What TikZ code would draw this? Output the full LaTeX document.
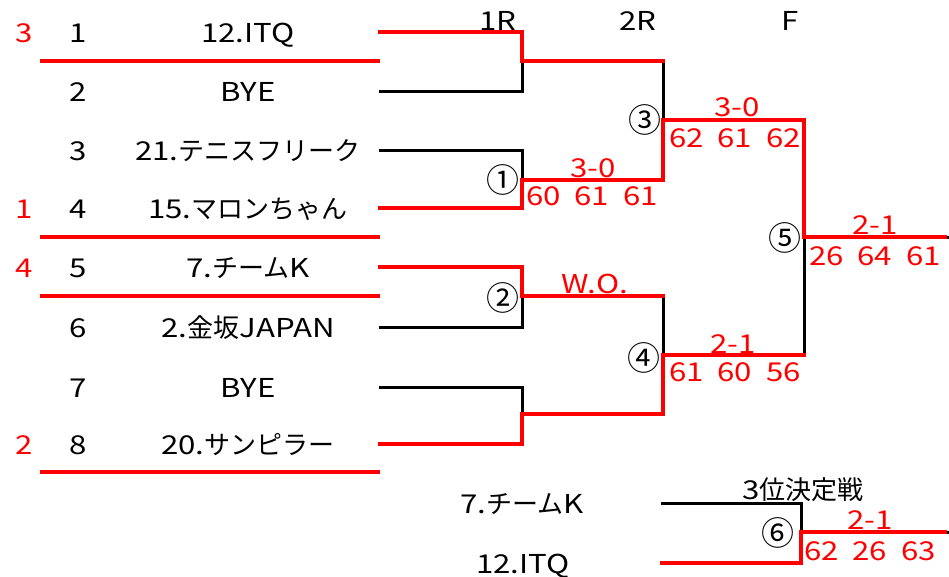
\documentclass[tikz,border=0pt]{standalone}
\usepackage{fontspec}
\setmainfont{Noto Sans CJK JP}
\newfontfamily\latf{Noto Sans CJK JP}[FakeStretch=1.2]
\newcommand\fsz{\fontsize{26}{30}\selectfont}
\newcommand\csz{\fontsize{33}{36}\selectfont}
\newcommand\gp{\hspace{14pt}}
\tikzset{
  redln/.style={draw=red, line width=4pt, line cap=rect},
  blkln/.style={draw=black, line width=3pt, line cap=rect},
  txt/.style={inner sep=0pt, anchor=base, font=\fsz, text=black},
  ltxt/.style={txt, font=\fsz\latf},
  rtxt/.style={ltxt, text=red},
  circ/.style={inner sep=0pt, anchor=center, font=\csz, text=black},
}
\begin{document}
\begin{tikzpicture}[x=1pt,y=-1pt]
\useasboundingbox (0,0) rectangle (949,576);
% headers
\node[ltxt] (h1) at (498,30) {1R};
\node[ltxt] (h2) at (638,30) {2R};
\node[ltxt] (h3) at (790,30) {F};
% seeds
\node[rtxt] (s1) at (24,42) {3};
\node[rtxt] (s4) at (24,218) {1};
\node[rtxt] (s5) at (24,277) {4};
\node[rtxt] (s8) at (24,454) {2};
% numbers
\foreach \i/\y in {1/32,2/91,3/150,4/208,5/267,6/327,7/387,8/444}{
  \node[ltxt] (n\i) at (78,\y+10) {\i};
}
% names
\node[ltxt] (t1) at (248,42) {12.ITQ};
\node[ltxt] (t2) at (248,101) {BYE};
\node[txt] (t3) at (248,160) {{\latf 21.}テニスフリーク};
\node[txt] (t4) at (248,218) {{\latf 15.}マロンちゃん};
\node[txt] (t5) at (248,277) {{\latf 7.}チーム{\latf K}};
\node[txt] (t6) at (248,337) {{\latf 2.}金坂{\latf JAPAN}};
\node[ltxt] (t7) at (248,397) {BYE};
\node[txt] (t8) at (248,454) {{\latf 20.}サンピラー};
% coordinates
\foreach \i/\y in {1/32,2/91,3/150,4/208,5/267,6/327,7/387,8/444}{
  \coordinate (a\i) at (380,\y);
  \coordinate (b\i) at (522,\y);
}
\coordinate (m12) at (522,61);
\coordinate (m34) at (522,180);
\coordinate (m56) at (522,296);
\coordinate (m78) at (522,414);
\coordinate (c12) at (663,61);
\coordinate (c34) at (663,180);
\coordinate (c56) at (663,296);
\coordinate (c78) at (663,414);
\coordinate (q1) at (663,120);
\coordinate (q2) at (663,355);
\coordinate (f1) at (804,120);
\coordinate (f2) at (804,355);
\coordinate (fm) at (804,237);
\coordinate (fe) at (945,237);
% underlines
\coordinate (u1l) at (40,61);  \coordinate (u1r) at (380,61);
\coordinate (u2l) at (40,237); \coordinate (u2r) at (380,237);
\coordinate (u3l) at (40,296); \coordinate (u3r) at (380,296);
\coordinate (u4l) at (40,472); \coordinate (u4r) at (380,472);
\draw[redln, line cap=butt] (u1l) -- (u1r);
\draw[redln, line cap=butt] (u2l) -- (u2r);
\draw[redln, line cap=butt] (u3l) -- (u3r);
\draw[redln, line cap=butt] (u4l) -- (u4r);
% black bracket
\foreach \i in {1,...,8}{ \draw[blkln] (a\i) -- (b\i); }
\draw[blkln] (b1) -- (b2);
\draw[blkln] (b3) -- (b4);
\draw[blkln] (b5) -- (b6);
\draw[blkln] (b7) -- (b8);
\draw[blkln] (m12) -- (c12) -- (c34) -- (m34);
\draw[blkln] (m56) -- (c56) -- (c78) -- (m78);
\draw[blkln] (q1) -- (f1) -- (f2) -- (q2);
\draw[blkln] (fm) -- ([xshift=2pt]fe);
% red winners
\draw[redln] (a1) -- (b1) -- (m12) -- (c12);
\draw[redln] (a4) -- (b4) -- (m34) -- (c34) -- (q1) -- (f1) -- (fm) -- (fe);
\draw[redln] (a5) -- (b5) -- (m56) -- (c56);
\draw[redln] (a8) -- (b8) -- (m78) -- (c78) -- (q2) -- (f2);
% circled match numbers
\node[circ] (k1) at (503,180) {①};
\node[circ] (k2) at (503,298) {②};
\node[circ] (k3) at (645,120) {③};
\node[circ] (k4) at (644,358) {④};
\node[circ] (k5) at (785,238) {⑤};
\node[circ] (k6) at (778,533) {⑥};
% scores
\node[rtxt] (sc1a) at (593,177) {3-0};
\node[rtxt] (sc1b) at (592,205) {60\gp61\gp61};
\node[rtxt] (sc2a) at (595,293) {W.O.};
\node[rtxt] (sc3a) at (737,116) {3-0};
\node[rtxt] (sc3b) at (735,147) {62\gp61\gp62};
\node[rtxt] (sc4a) at (733,353) {2-1};
\node[rtxt] (sc4b) at (735,381) {61\gp60\gp56};
\node[rtxt] (sc5a) at (875,234) {2-1};
\node[rtxt] (sc5b) at (875,265) {26\gp64\gp61};
% third place
\node[txt] (p1) at (522,513) {{\latf 7.}チーム{\latf K}};
\node[ltxt] (p2) at (523,573) {12.ITQ};
\node[txt] (p3) at (803,499) {{\latf 3}位決定戦};
\coordinate (x1) at (662,503);
\coordinate (x2) at (801,503);
\coordinate (x3) at (662,563);
\coordinate (x4) at (801,563);
\coordinate (xm) at (801,532);
\coordinate (xe) at (945,532);
\draw[blkln] (x1) -- (x2) -- (x4);
\draw[blkln] (xm) -- ([xshift=2pt]xe);
\draw[redln] (x3) -- (x4) -- (xm) -- (xe);
\node[rtxt] (sc6a) at (870,529) {2-1};
\node[rtxt] (sc6b) at (870,560) {62\gp26\gp63};
\end{tikzpicture}
\end{document}
